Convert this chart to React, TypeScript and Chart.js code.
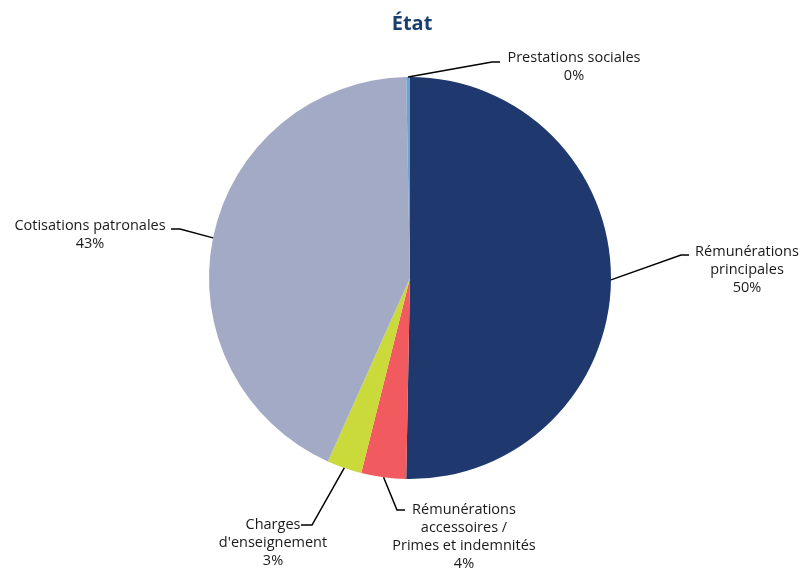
import React, { useEffect, useRef } from "react";
import { Chart, registerables } from "chart.js";

Chart.register(...registerables);

const title = "État";
const categories = [
  "Rémunérations principales",
  "Rémunérations accessoires / Primes et indemnités",
  "Charges d'enseignement",
  "Cotisations patronales",
  "Prestations sociales",
];
const labelLines = [
  ["Rémunérations", "principales"],
  ["Rémunérations", "accessoires /", "Primes et indemnités"],
  ["Charges", "d'enseignement"],
  ["Cotisations patronales"],
  ["Prestations sociales"],
];
const values = [50.3, 3.6, 2.8, 43.0, 0.3];
const colors = ["#1F386E", "#F15B60", "#C9DA3A", "#A3AAC6", "#6FA3D4"];

// layout of the callouts: elbow point, line end x, text centre x, first baseline y
const callouts = [
  { ex: 681, ey: 255, endX: 689, tx: 747, ty: 256 },
  { ex: 397, ey: 510, endX: 405, tx: 464, ty: 514 },
  { ex: 312, ey: 525, endX: 301, tx: 273, ty: 529 },
  { ex: 180, ey: 229, endX: 171, tx: 90, ty: 230 },
  { ex: 492, ey: 62, endX: 500, tx: 574, ty: 62 },
];

const FONT = "14.5px 'Open Sans', 'Noto Sans', sans-serif";

const calloutPlugin = {
  id: "callouts",
  afterDraw(chart: any) {
    const ctx = chart.ctx;
    const meta = chart.getDatasetMeta(0);
    const total = values.reduce((a, b) => a + b, 0);
    ctx.save();
    // title
    ctx.font = "bold 20px 'Open Sans', 'Noto Sans', sans-serif";
    ctx.fillStyle = "#1B3F6E";
    ctx.textAlign = "center";
    ctx.textBaseline = "alphabetic";
    ctx.fillText(title, 412, 30);

    meta.data.forEach((arc: any, i: number) => {
      const p = arc.getProps(["x", "y", "startAngle", "endAngle", "outerRadius"], true);
      const mid = (p.startAngle + p.endAngle) / 2;
      const sx = p.x + Math.cos(mid) * p.outerRadius;
      const sy = p.y + Math.sin(mid) * p.outerRadius;
      const c = callouts[i];
      ctx.strokeStyle = "#000";
      ctx.lineWidth = 1.5;
      ctx.beginPath();
      ctx.moveTo(sx, sy);
      ctx.lineTo(c.ex, c.ey);
      ctx.lineTo(c.endX, c.ey);
      ctx.stroke();
      ctx.font = FONT;
      ctx.fillStyle = "#1a1a1a";
      ctx.textAlign = "center";
      const lines = [...labelLines[i], Math.round((values[i] / total) * 100) + "%"];
      lines.forEach((t, k) => ctx.fillText(t, c.tx, c.ty + k * 18));
    });
    ctx.restore();
  },
};

export default function App() {
  const ref = useRef<HTMLCanvasElement>(null);
  useEffect(() => {
    const chart = new Chart(ref.current!, {
      type: "pie",
      data: {
        labels: categories,
        datasets: [
          {
            data: values,
            backgroundColor: colors,
            borderWidth: 0,
          },
        ],
      },
      options: {
        animation: false,
        responsive: false,
        layout: { padding: { top: 77, bottom: 90, left: 17, right: 0 } },
        plugins: {
          legend: { display: false },
          tooltip: { enabled: false },
          title: { display: false },
        },
      },
      plugins: [calloutPlugin],
    });
    return () => chart.destroy();
  }, []);
  return (
    <div style={{ position: "fixed", left: 0, top: 0, width: 803, height: 569, background: "#fff" }}>
      <canvas ref={ref} width={803} height={569} style={{ width: 803, height: 569 }} />
    </div>
  );
}
